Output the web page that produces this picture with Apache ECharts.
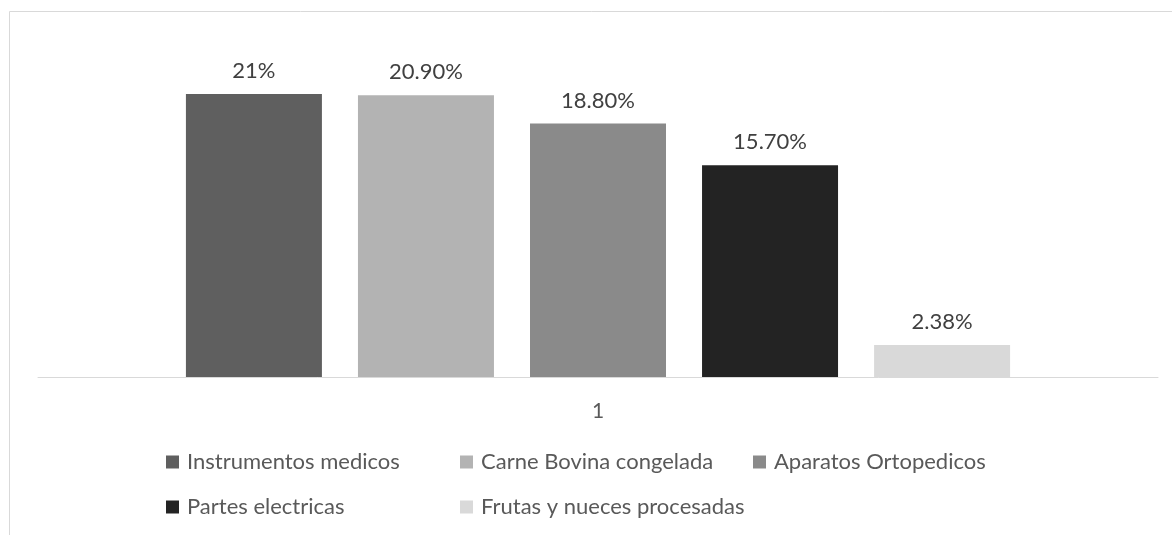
<!DOCTYPE html>
<html>
<head>
<meta charset="utf-8">
<script src="https://cdn.jsdelivr.net/npm/echarts@6/dist/echarts.min.js"></script>
<style>
  html, body { margin: 0; padding: 0; background: #fff; }
  #chart { width: 1172px; height: 535px; }
</style>
</head>
<body>
<div id="chart"></div>
<script>
// data
const categories = ["1"];
const seriesNames = [
  "Instrumentos medicos",
  "Carne Bovina congelada",
  "Aparatos Ortopedicos",
  "Partes electricas",
  "Frutas y nueces procesadas",
];
const seriesValues = [21, 20.9, 18.8, 15.7, 2.38];
const valueLabels = ["21%", "20.90%", "18.80%", "15.70%", "2.38%"];
const seriesColors = ["#5f5f5f", "#b3b3b3", "#8a8a8a", "#232323", "#d9d9d9"];

// legend is laid out in a 3-column grid like the original
const legendPos = [
  { left: 166, top: 451 },
  { left: 460, top: 451 },
  { left: 753, top: 451 },
  { left: 166, top: 496 },
  { left: 460, top: 496 },
];

const font = "Lato, 'Open Sans', sans-serif";

const chart = echarts.init(document.getElementById("chart"));

const option = {
  animation: false,
  textStyle: { fontFamily: font },
  graphic: [
    {
      type: "rect",
      shape: { x: 9.5, y: 11.5, width: 1200, height: 600 },
      style: { fill: "none", stroke: "#d9d9d9", lineWidth: 1 },
      silent: true,
    },
  ],
  grid: {
    left: 38,
    right: 14,
    top: 40,
    bottom: 158,
  },
  legend: seriesNames.map((name, i) => ({
    data: [name],
    left: legendPos[i].left,
    top: legendPos[i].top,
    icon: "rect",
    itemWidth: 13,
    itemHeight: 13,
    itemGap: 7,
    padding: 0,
    selectedMode: false,
    textStyle: { fontSize: 22, color: "#595959", fontFamily: font, padding: [0, 0, 0, 3] },
  })),
  xAxis: {
    type: "category",
    data: categories,
    axisLine: { lineStyle: { color: "#d9d9d9", width: 1 } },
    axisTick: { show: false },
    axisLabel: { color: "#595959", fontSize: 21, margin: 24, fontFamily: font },
  },
  yAxis: {
    type: "value",
    min: 0,
    max: 25,
    show: false,
    splitLine: { show: false },
  },
  series: seriesNames.map((name, i) => ({
    name: name,
    type: "bar",
    data: [seriesValues[i]],
    barWidth: 136,
    barGap: "26.5%",
    itemStyle: { color: seriesColors[i] },
    label: {
      show: true,
      position: "top",
      distance: 12,
      color: "#404040",
      fontSize: 22,
      fontFamily: font,
      formatter: () => valueLabels[i],
    },
  })),
};

chart.setOption(option);
</script>
</body>
</html>
